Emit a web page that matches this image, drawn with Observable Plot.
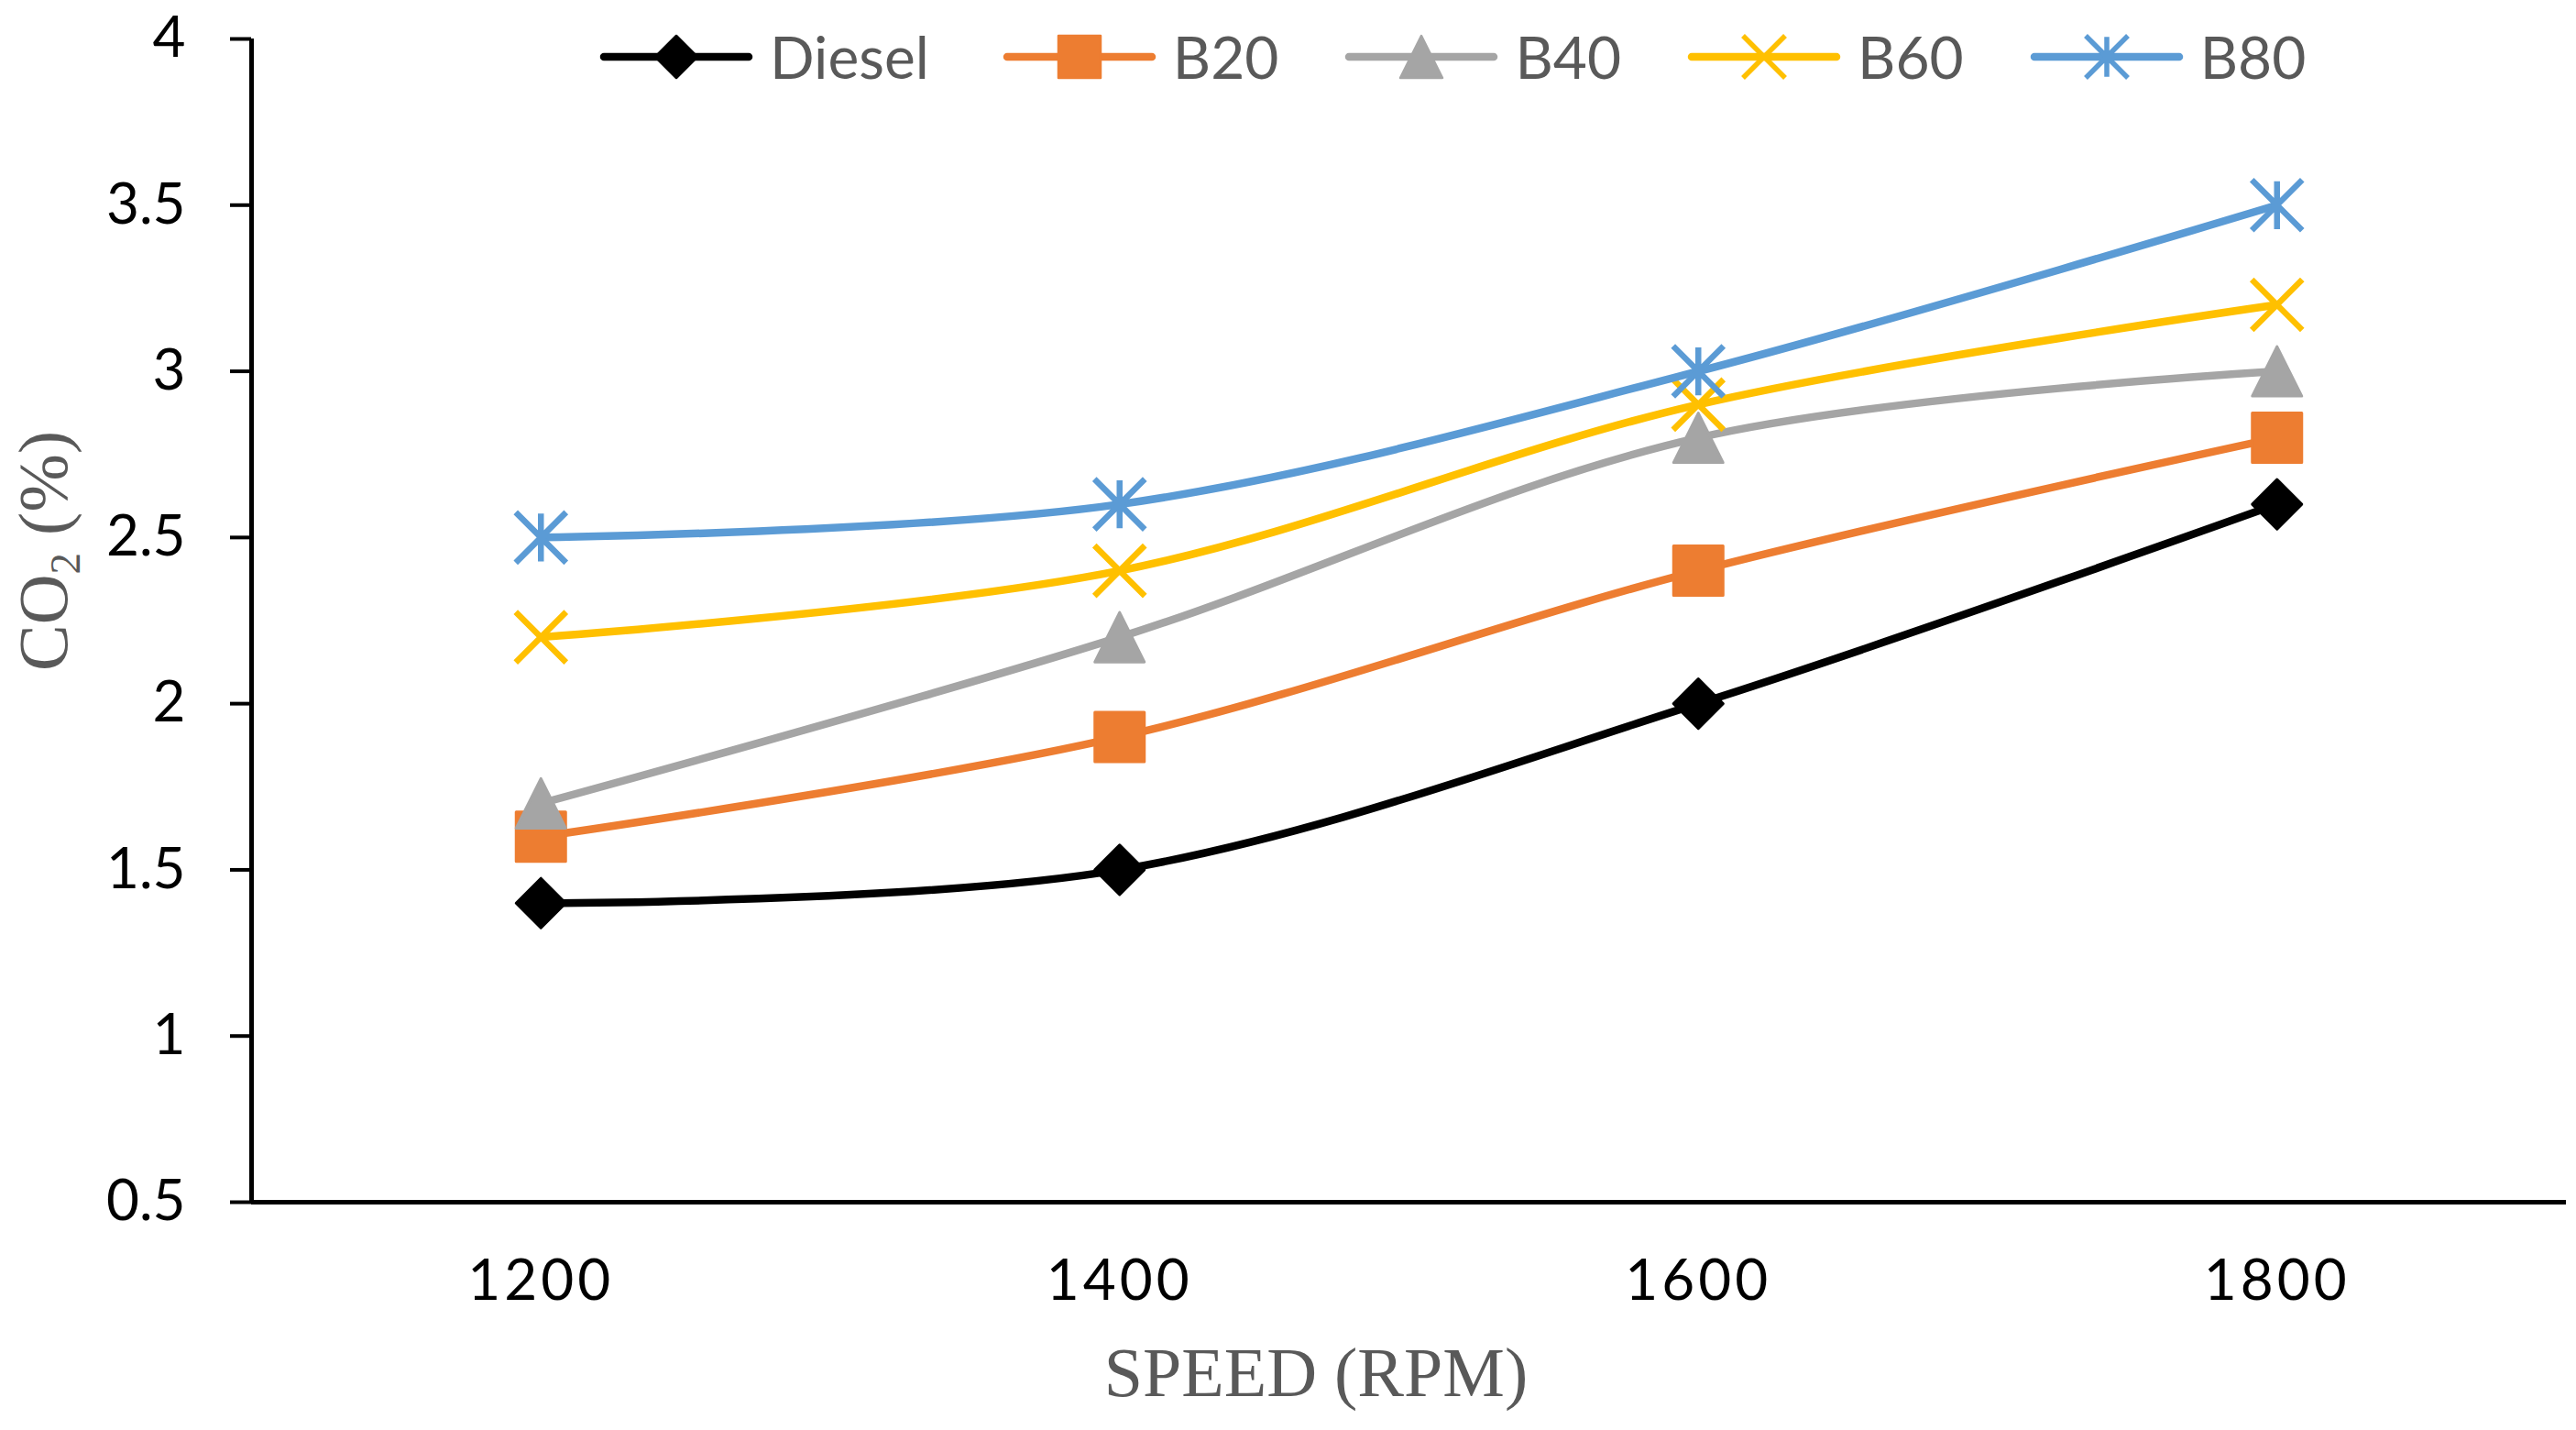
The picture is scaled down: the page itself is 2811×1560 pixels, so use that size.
<!DOCTYPE html>
<html>
<head>
<meta charset="utf-8">
<script src="https://cdn.jsdelivr.net/npm/d3@7"></script>
<script src="https://cdn.jsdelivr.net/npm/@observablehq/plot@0.6"></script>
<style>
  html, body { margin: 0; padding: 0; background: #fff; }
  #wrap { position: relative; width: 2811px; height: 1560px; overflow: hidden; background: #fff; }
  #chart svg { display: block; }
  #chart g[aria-label="x-axis tick label"] text { letter-spacing: 4px; }
  #legend { position: absolute; left: 654px; top: 32px; height: 60px; display: flex; align-items: center;
            font-family: Lato, sans-serif; font-size: 64px; color: #595959; }
  #legend .item { display: flex; align-items: center; margin-right: 72px; }
  #legend .item:first-child { margin-right: 80px; }
  #legend .item svg { display: block; margin-right: 18px; }
  #legend .item span { line-height: 60px; }
  .title { position: absolute; font-family: "Liberation Serif", "Times New Roman", serif; font-size: 76px;
           color: #595959; line-height: 76px; white-space: nowrap; }
  #xtitle { left: 1436px; top: 1459px; transform: translateX(-50%); }
  #ytitle { left: 52px; top: 601px; transform: translate(-50%, -50%) rotate(-90deg); }
  #ytitle .sub { font-size: 0.62em; position: relative; top: 0.3em; }
</style>
</head>
<body>
<div id="wrap">
  <div id="chart"></div>
  <div id="legend"></div>
  <div id="xtitle" class="title">SPEED (RPM)</div>
  <div id="ytitle" class="title">CO<span class="sub">2</span> (%)</div>
</div>
<script>
// ---- data ----
const speeds = [1200, 1400, 1600, 1800];
const seriesNames = ["Diesel", "B20", "B40", "B60", "B80"];
const diesel = [1.4, 1.5, 2.0, 2.6];
const b20 = [1.6, 1.9, 2.4, 2.8];
const b40 = [1.7, 2.2, 2.8, 3.0];
const b60 = [2.2, 2.4, 2.9, 3.2];
const b80 = [2.5, 2.6, 3.0, 3.5];
const seriesValues = [diesel, b20, b40, b60, b80];
const seriesColors = ["#000000", "#ED7D31", "#A5A5A5", "#FFC000", "#5B9BD5"];
const yTicks = [0.5, 1, 1.5, 2, 2.5, 3, 3.5, 4];
const xTicks = speeds;
const xDomain = [1100, 1900];

// ---- marker symbols (half-extent = r) ----
const half = size => Math.sqrt(size / Math.PI);
const diamondSym = { draw(c, s) { const r = half(s); c.moveTo(0, -r); c.lineTo(r, 0); c.lineTo(0, r); c.lineTo(-r, 0); c.closePath(); } };
const squareSym = { draw(c, s) { const r = half(s); c.moveTo(-r, -r); c.lineTo(r, -r); c.lineTo(r, r); c.lineTo(-r, r); c.closePath(); } };
const triangleSym = { draw(c, s) { const r = half(s); c.moveTo(0, -r); c.lineTo(r, r); c.lineTo(-r, r); c.closePath(); } };
const timesSym = { draw(c, s) { const r = half(s); c.moveTo(-r, -r); c.lineTo(r, r); c.moveTo(-r, r); c.lineTo(r, -r); } };
const starSym = { draw(c, s) { const r = half(s); c.moveTo(-r, -r); c.lineTo(r, r); c.moveTo(-r, r); c.lineTo(r, -r); c.moveTo(0, -r * 0.95); c.lineTo(0, r * 0.95); } };
const seriesSymbols = [diamondSym, squareSym, triangleSym, timesSym, starSym];
const seriesFilled = [true, true, true, false, false];

const rows = seriesNames.flatMap((s, i) => speeds.map((x, j) => ({ series: s, speed: x, value: seriesValues[i][j] })));

const seriesMarks = seriesNames.flatMap((s, i) => {
  const pts = rows.filter(d => d.series === s);
  const col = seriesColors[i];
  return [
    Plot.line(pts, { x: "speed", y: "value", stroke: col, strokeWidth: 8.5, curve: "catmull-rom", strokeLinecap: "round", strokeLinejoin: "round" }),
    Plot.dot(pts, {
      x: "speed", y: "value", symbol: seriesSymbols[i], r: seriesFilled[i] ? 27 : 27.5,
      fill: seriesFilled[i] ? col : "none", stroke: col,
      strokeWidth: seriesFilled[i] ? 3 : 6.5, strokeLinejoin: "round"
    })
  ];
});

const chart = Plot.plot({
  width: 2811,
  height: 1560,
  marginTop: 42,
  marginBottom: 249,
  marginLeft: 274,
  marginRight: 11,
  style: { fontFamily: "Lato, sans-serif", fontSize: "62px", color: "#000", background: "transparent", overflow: "visible" },
  x: { domain: xDomain },
  y: { domain: [yTicks[0], yTicks[yTicks.length - 1]] },
  marks: [
    Plot.axisY({ ticks: yTicks, tickSize: 23, tickPadding: 49, strokeWidth: 4, tickFormat: d3.format("~g"), label: null }),
    Plot.axisX({ ticks: xTicks, tickSize: 0, tickPadding: 62, tickFormat: d => `${d}`, label: null }),
    Plot.ruleX([xDomain[0]], { stroke: "#000", strokeWidth: 5 }),
    Plot.ruleY([yTicks[0]], { stroke: "#000", strokeWidth: 5 }),
    ...seriesMarks
  ]
});
document.getElementById("chart").appendChild(chart);

// ---- legend ----
const legend = d3.select("#legend");
seriesNames.forEach((s, i) => {
  const item = legend.append("div").attr("class", "item");
  const sw = item.append("svg").attr("width", 168).attr("height", 60);
  const col = seriesColors[i];
  sw.append("line").attr("x1", 5).attr("x2", 163).attr("y1", 30).attr("y2", 30)
    .attr("stroke", col).attr("stroke-width", 8.5).attr("stroke-linecap", "round");
  const p = d3.path();
  seriesSymbols[i].draw(p, Math.PI * 23 * 23);
  sw.append("path").attr("transform", "translate(84,30)").attr("d", p.toString())
    .attr("fill", seriesFilled[i] ? col : "none").attr("stroke", col)
    .attr("stroke-width", seriesFilled[i] ? 2.5 : 5.5).attr("stroke-linejoin", "round");
  item.append("span").text(s);
});
</script>
</body>
</html>
